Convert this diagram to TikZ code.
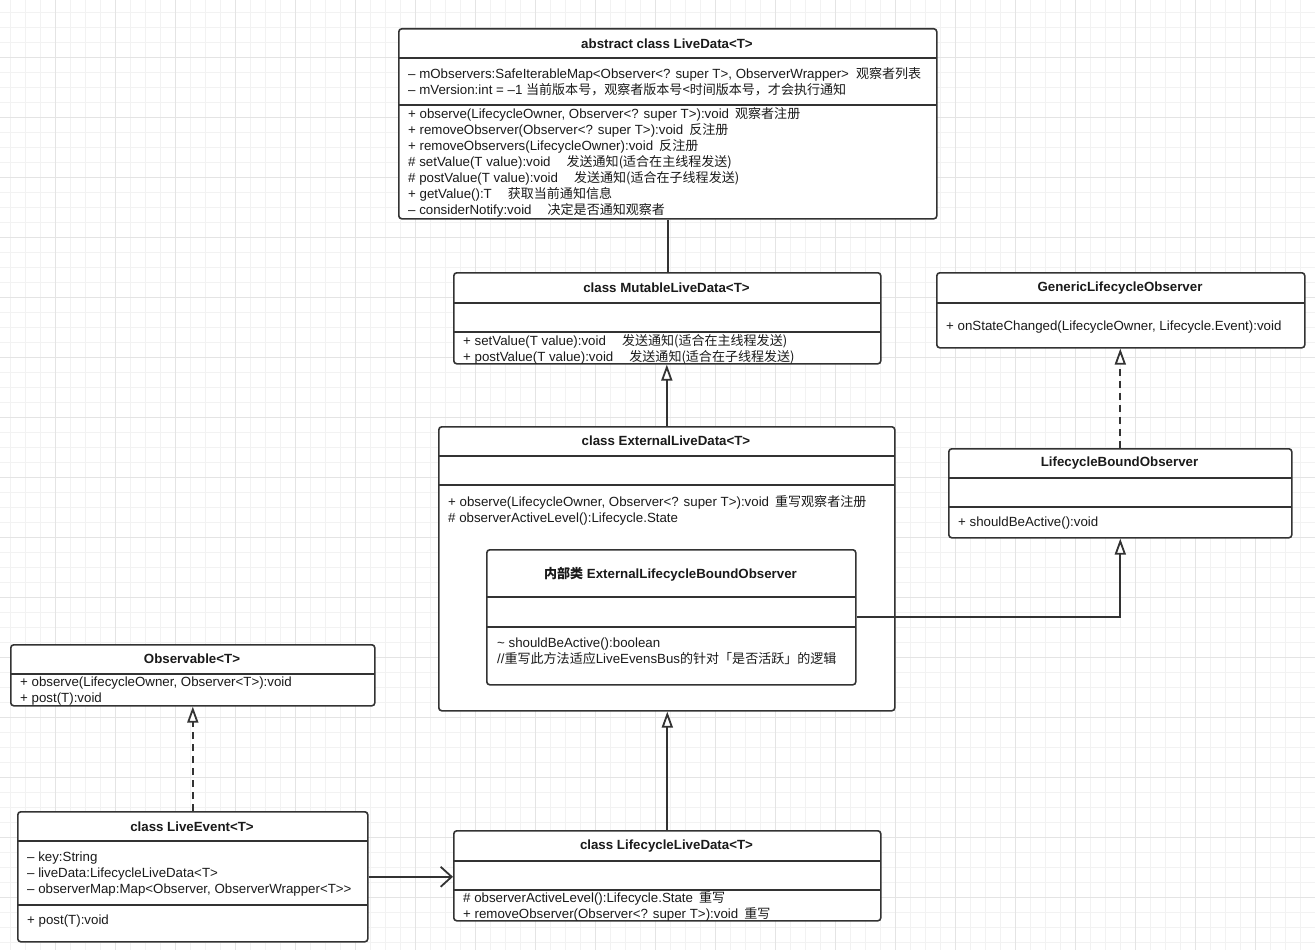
\documentclass[tikz,border=0pt]{standalone}
\usepackage{fontspec}
\setmainfont{Liberation Sans}
\newfontfamily\cjk{Noto Sans CJK SC}[Scale=0.98]
\newcommand\zh[1]{{\cjk #1}}
\usetikzlibrary{arrows.meta}
\definecolor{lc}{HTML}{333333}
\definecolor{tc}{HTML}{1A1A1A}
\definecolor{gmin}{HTML}{F2F2F2}
\definecolor{gmaj}{HTML}{E4E4E4}
\tikzset{
  cls/.style={draw=lc, line width=1.6pt, fill=white, rounded corners=3pt, inner sep=0pt, anchor=north west},
  sep/.style={draw=lc, line width=1.6pt},
  txt/.style={font=\fontsize{13.3}{16}\selectfont, text=tc, inner sep=0pt, anchor=west, text height=9.5pt, text depth=3pt, yshift=-1.2pt},
  ttl/.style={font=\fontsize{13.3}{16}\selectfont\bfseries, text=tc, inner sep=0pt, anchor=center},
  conn/.style={draw=lc, line width=1.8pt},
  inh/.style={conn, -{Triangle[open, length=16pt, width=11pt, fill=white]}},
  dsh/.style={dash pattern=on 7pt off 5pt},
  assoc/.style={conn, -{Straight Barb[length=11pt, width=20pt]}},
  gridminor/.style={draw=gmin, line width=0.8pt},
  gridmajor/.style={draw=gmaj, line width=0.9pt}
}
\begin{document}
\begin{tikzpicture}[x=1pt, y=-1pt]
\useasboundingbox (0,0) rectangle (1315,950);
\fill[white] (0,0) rectangle (1315,950);
% grid
\foreach \g in {10.5,25.5,...,1315} \draw[gridminor] (\g,0) -- (\g,950);
\foreach \g in {12,27,...,950} \draw[gridminor] (0,\g) -- (1315,\g);
\foreach \g in {55,115,...,1315} \draw[gridmajor] (\g,0) -- (\g,950);
\foreach \g in {57,117,...,950} \draw[gridmajor] (0,\g) -- (1315,\g);

% ---------- LiveData ----------
\node[cls, minimum width=538pt, minimum height=190pt] (ld) at (398,28) {};
\draw[sep] (398,58) -- (936,58);
\draw[sep] (398,105) -- (936,105);
\node[ttl] (ldt) at (667,44) {abstract class LiveData<T>};
\node[txt] (lda1) at (408,74) {– mObservers:SafeIterableMap<Observer<? super T>, ObserverWrapper>\hspace{7pt}\zh{观察者列表}};
\node[txt] (lda2) at (408,90) {– mVersion:int = –1 \zh{当前版本号，观察者版本号<时间版本号，才会执行通知}};
\node[txt] (ldm1) at (408,114) {+ observe(LifecycleOwner, Observer<? super T>):void\hspace{6pt}\zh{观察者注册}};
\node[txt] (ldm2) at (408,130) {+ removeObserver(Observer<? super T>):void\hspace{6pt}\zh{反注册}};
\node[txt] (ldm3) at (408,146) {+ removeObservers(LifecycleOwner):void\hspace{6pt}\zh{反注册}};
\node[txt] (ldm4) at (408,162) {\# setValue(T value):void\hspace{16pt}\zh{发送通知(适合在主线程发送)}};
\node[txt] (ldm5) at (408,178) {\# postValue(T value):void\hspace{16pt}\zh{发送通知(适合在子线程发送)}};
\node[txt] (ldm6) at (408,194) {+ getValue():T\hspace{16pt}\zh{获取当前通知信息}};
\node[txt] (ldm7) at (408,210) {– considerNotify:void\hspace{16pt}\zh{决定是否通知观察者}};

% ---------- MutableLiveData ----------
\node[cls, minimum width=427pt, minimum height=91pt] (mld) at (453,272) {};
\draw[sep] (453,303) -- (880,303);
\draw[sep] (453,332) -- (880,332);
\node[ttl] (mldt) at (666.5,288) {class MutableLiveData<T>};
\node[txt] (mldm1) at (463,341) {+ setValue(T value):void\hspace{16pt}\zh{发送通知(适合在主线程发送)}};
\node[txt] (mldm2) at (463,357) {+ postValue(T value):void\hspace{16pt}\zh{发送通知(适合在子线程发送)}};

% ---------- GenericLifecycleObserver ----------
\node[cls, minimum width=368pt, minimum height=75pt] (glo) at (936,272) {};
\draw[sep] (936,303) -- (1304,303);
\node[ttl] (glot) at (1120,288) {GenericLifecycleObserver};
\node[txt] (glom1) at (946,326) {+ onStateChanged(LifecycleOwner, Lifecycle.Event):void};

% ---------- ExternalLiveData ----------
\node[cls, minimum width=456pt, minimum height=284pt] (eld) at (438,426) {};
\draw[sep] (438,456) -- (894,456);
\draw[sep] (438,485) -- (894,485);
\node[ttl] (eldt) at (666,441) {class ExternalLiveData<T>};
\node[txt] (eldm1) at (448,502) {+ observe(LifecycleOwner, Observer<? super T>):void\hspace{6pt}\zh{重写观察者注册}};
\node[txt] (eldm2) at (448,518) {\# observerActiveLevel():Lifecycle.State};

% ---------- inner class ----------
\node[cls, minimum width=369pt, minimum height=135pt] (inner) at (486,549) {};
\draw[sep] (486,597) -- (855,597);
\draw[sep] (486,627) -- (855,627);
\node[ttl] (innert) at (670.5,574) {\zh{\bfseries 内部类} ExternalLifecycleBoundObserver};
\node[txt] (innerm1) at (497,643) {\textasciitilde\ shouldBeActive():boolean};
\node[txt] (innerm2) at (497,659) {//\zh{重写此方法适应}LiveEvensBus\zh{的针对「是否活跃」的逻辑}};

% ---------- LifecycleBoundObserver ----------
\node[cls, minimum width=343pt, minimum height=89pt] (lbo) at (948,448) {};
\draw[sep] (948,478) -- (1291,478);
\draw[sep] (948,507) -- (1291,507);
\node[ttl] (lbot) at (1119.5,463) {LifecycleBoundObserver};
\node[txt] (lbom1) at (958,522) {+ shouldBeActive():void};

% ---------- Observable ----------
\node[cls, minimum width=364pt, minimum height=61pt] (obs) at (10,644) {};
\draw[sep] (10,674) -- (374,674);
\node[ttl] (obst) at (192,659) {Observable<T>};
\node[txt] (obsm1) at (20,682) {+ observe(LifecycleOwner, Observer<T>):void};
\node[txt] (obsm2) at (20,698) {+ post(T):void};

% ---------- LiveEvent ----------
\node[cls, minimum width=350pt, minimum height=130pt] (le) at (17,811) {};
\draw[sep] (17,841) -- (367,841);
\draw[sep] (17,905) -- (367,905);
\node[ttl] (let) at (192,827) {class LiveEvent<T>};
\node[txt] (lea1) at (27,857) {– key:String};
\node[txt] (lea2) at (27,873) {– liveData:LifecycleLiveData<T>};
\node[txt] (lea3) at (27,889) {– observerMap:Map<Observer, ObserverWrapper<T>{}>};
\node[txt] (lem1) at (27,920) {+ post(T):void};

% ---------- LifecycleLiveData ----------
\node[cls, minimum width=427pt, minimum height=90pt] (lld) at (453,830) {};
\draw[sep] (453,861) -- (880,861);
\draw[sep] (453,890) -- (880,890);
\node[ttl] (lldt) at (666.5,846) {class LifecycleLiveData<T>};
\node[txt] (lldm1) at (463,898) {\# observerActiveLevel():Lifecycle.State\hspace{6pt}\zh{重写}};
\node[txt] (lldm2) at (463,914) {+ removeObserver(Observer<? super T>):void\hspace{6pt}\zh{重写}};

% ---------- connectors ----------
\draw[conn] (ld.south) -- (ld.south |- mld.north);
\draw[inh] (eld.north) -- (eld.north |- mld.south);
\draw[inh] (lld.north) -- (lld.north |- eld.south);
\draw[inh, dsh] (lbo.north) -- (lbo.north |- glo.south);
\draw[inh] (inner.east) -| (lbo.south);
\draw[inh, dsh] (le.north) -- (le.north |- obs.south);
\draw[assoc] (le.east) -- (le.east -| lld.west);
\end{tikzpicture}
\end{document}
